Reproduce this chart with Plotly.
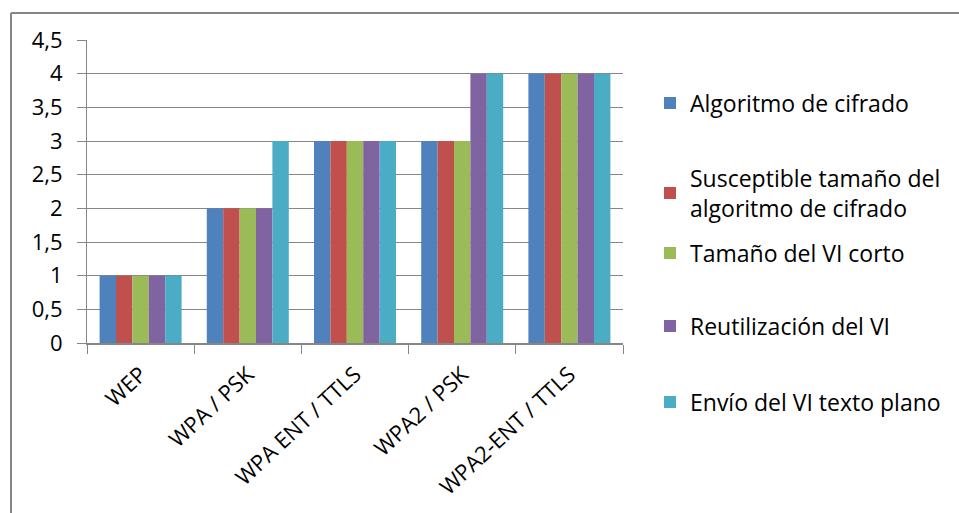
import plotly.graph_objects as go

# Security protocols compared on five WEP-weakness criteria
protocols = ["WEP", "WPA / PSK", "WPA ENT / TTLS", "WPA2 / PSK", "WPA2-ENT / TTLS"]

algoritmo_cifrado = [1, 2, 3, 3, 4]
susceptible_tamano = [1, 2, 3, 3, 4]
tamano_vi_corto = [1, 2, 3, 3, 4]
reutilizacion_vi = [1, 2, 3, 4, 4]
envio_vi_texto_plano = [1, 3, 3, 4, 4]

series_names = [
    "Algoritmo de cifrado",
    "Susceptible tamaño del<br>algoritmo de cifrado",
    "Tamaño del VI corto",
    "Reutilización del VI",
    "Envío del VI texto plano",
]
series_values = [
    algoritmo_cifrado,
    susceptible_tamano,
    tamano_vi_corto,
    reutilizacion_vi,
    envio_vi_texto_plano,
]
colors = ["#4F81BD", "#C0504D", "#9BBB59", "#8064A2", "#4BACC6"]

y_ticks = [0, 0.5, 1, 1.5, 2, 2.5, 3, 3.5, 4, 4.5]
y_tick_text = ["0", "0,5", "1", "1,5", "2", "2,5", "3", "3,5", "4", "4,5"]

FONT = "Open Sans"
GRID = "#868686"

W, H = 959, 513
L, R, T, B = 87, 336, 40, 170
pw, ph = W - L - R, H - T - B


def px_x(X):
    return (X - L) / pw


def px_y(Y):
    return (H - B - Y) / ph


# vertical centre (px) of each legend entry in the right-hand column
legend_centres = [103, 193, 253, 326, 402]
legend_ids = ["legend", "legend2", "legend3", "legend4", "legend5"]

fig = go.Figure()
for name, vals, col, lid in zip(series_names, series_values, colors, legend_ids):
    fig.add_trace(go.Bar(
        x=protocols, y=vals, name=name, marker_color=col,
        marker_line_width=0, legend=lid, showlegend=True,
    ))

legend_layouts = {}
for lid, yc in zip(legend_ids, legend_centres):
    legend_layouts[lid] = dict(
        x=px_x(650), y=px_y(yc), xanchor="left", yanchor="middle",
        font=dict(family=FONT, size=23, color="#000000"),
        bgcolor="rgba(0,0,0,0)", itemclick=False, itemdoubleclick=False,
    )

fig.update_layout(
    width=W, height=H,
    margin=dict(l=L, r=R, t=T, b=B),
    paper_bgcolor="white", plot_bgcolor="white",
    showlegend=True,
    barmode="group", bargap=0.235, bargroupgap=0,
    font=dict(family=FONT, size=22, color="#000000"),
    xaxis=dict(
        range=[-0.5, 4.5], showline=True, linecolor=GRID, linewidth=2,
        ticks="outside", tickson="boundaries", ticklen=9, tickcolor=GRID,
        tickwidth=1, tickangle=-43, showgrid=False, ticklabelstandoff=8,
        tickfont=dict(family=FONT, size=22),
    ),
    yaxis=dict(
        range=[0, 4.5], tickvals=y_ticks, ticktext=y_tick_text,
        showline=True, linecolor=GRID, linewidth=1,
        ticks="outside", ticklen=9, tickcolor=GRID, tickwidth=1,
        showgrid=True, gridcolor=GRID, gridwidth=1, zeroline=False,
        ticklabelstandoff=10, tickfont=dict(family=FONT, size=22),
    ),
    shapes=[
        dict(type="line", xref="paper", yref="paper",
             x0=px_x(11), x1=px_x(11), y0=px_y(H + 5), y1=px_y(13),
             line=dict(color=GRID, width=2)),
        dict(type="line", xref="paper", yref="paper",
             x0=px_x(11), x1=px_x(W + 5), y0=px_y(13), y1=px_y(13),
             line=dict(color=GRID, width=2)),
    ],
    **legend_layouts,
)

fig.write_html("out.html")
